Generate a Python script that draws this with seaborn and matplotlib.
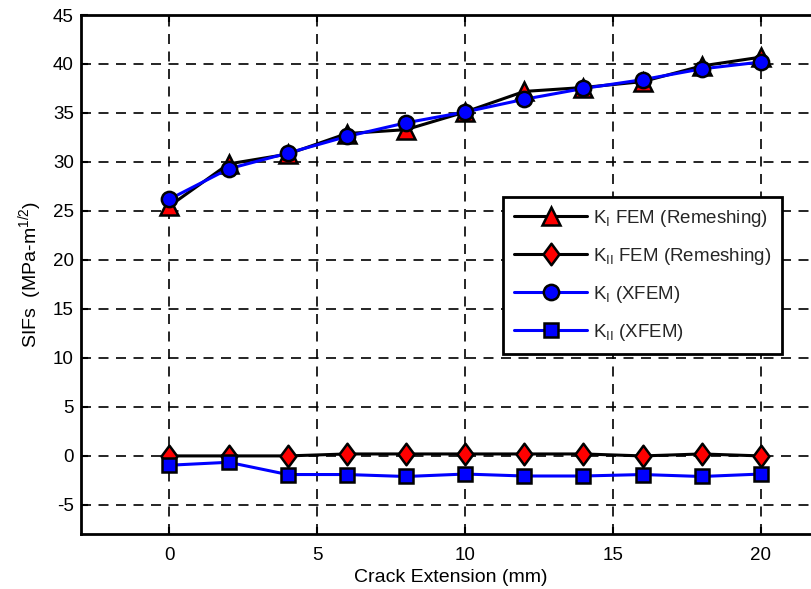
import matplotlib
matplotlib.use("Agg")
import matplotlib.pyplot as plt
from matplotlib.path import Path
import seaborn as sns
import pandas as pd

# Crack extension steps (mm)
crack_ext = [0, 2, 4, 6, 8, 10, 12, 14, 16, 18, 20]

# Stress intensity factors (MPa-m^1/2)
k1_fem = [25.5, 29.8, 30.8, 32.9, 33.3, 35.1, 37.2, 37.6, 38.2, 39.8, 40.7]
k2_fem = [0.0, 0.0, 0.0, 0.2, 0.2, 0.2, 0.2, 0.2, 0.0, 0.2, 0.0]
k1_xfem = [26.2, 29.3, 30.9, 32.6, 34.0, 35.1, 36.4, 37.5, 38.4, 39.5, 40.2]
k2_xfem = [-0.95, -0.65, -1.9, -1.9, -2.1, -1.85, -2.05, -2.05, -1.9, -2.1, -1.85]

labels = [r"K$_{I}$ FEM (Remeshing)", r"K$_{II}$ FEM (Remeshing)",
          r"K$_{I}$ (XFEM)", r"K$_{II}$ (XFEM)"]

df = pd.DataFrame({"ext": crack_ext, "k1_fem": k1_fem, "k2_fem": k2_fem,
                   "k1_xfem": k1_xfem, "k2_xfem": k2_xfem})

# slightly tall diamond marker
diamond = Path([(0, 1), (0.74, 0), (0, -1), (-0.74, 0), (0, 1)],
               [Path.MOVETO, Path.LINETO, Path.LINETO, Path.LINETO, Path.CLOSEPOLY])

sns.set_theme(style="white")
plt.rcParams["font.family"] = ["Liberation Sans", "DejaVu Sans"]
plt.rcParams["mathtext.default"] = "regular"
plt.rcParams["axes.unicode_minus"] = False

fig = plt.figure(figsize=(8.12, 5.89), dpi=100)
ax = fig.add_axes([80.7 / 812, 54.7 / 589, 739.3 / 812, 519.3 / 589])

styles = [
    ("k1_fem", "black", "red", "^", 13, 2.2),
    ("k2_fem", "black", "red", diamond, 15.5, 2.2),
    ("k1_xfem", "blue", "blue", "o", 11, 2.2),
    ("k2_xfem", "blue", "blue", "s", 10.5, 2.2),
]
for (col, lc, fc, mk, ms, lw), lab in zip(styles, labels):
    sns.lineplot(data=df, x="ext", y=col, ax=ax, color=lc, linewidth=lw,
                 marker=mk, markersize=ms, markerfacecolor=fc,
                 markeredgecolor="black", markeredgewidth=1.8,
                 label=lab, legend=False)

ax.set_xlim(-3, 22)
ax.set_ylim(-8, 45)
ax.set_xticks([0, 5, 10, 15, 20])
ax.set_yticks(list(range(-5, 46, 5)))

ax.grid(True, color="black", linestyle=(0, (6, 4.5)), linewidth=1.2)
ax.set_axisbelow(True)
for s in ax.spines.values():
    s.set_color("black")
    s.set_linewidth(2)

ax.tick_params(axis="both", direction="in", length=5, width=1.5,
               labelsize=13.5, colors="black",
               top=True, right=True, left=True, bottom=True)
ax.tick_params(axis="x", pad=9)
ax.tick_params(axis="y", pad=5)

ax.set_xlabel("Crack Extension (mm)", fontsize=14, color="black", labelpad=4)
ax.set_ylabel(r"SIFs  (MPa-m$^{1/2}$)", fontsize=14, color="black", labelpad=6)

handles, labs = ax.get_legend_handles_labels()
leg = ax.legend(handles, labs, loc="upper left", bbox_to_anchor=(0.571, 0.65),
                borderaxespad=0, fontsize=13.5, handlelength=3.9,
                frameon=True, fancybox=False, edgecolor="black",
                framealpha=1, labelspacing=0.9, borderpad=0.6,
                handletextpad=0.3)
leg.get_frame().set_linewidth(2)

fig.savefig("out.png", dpi=100)
